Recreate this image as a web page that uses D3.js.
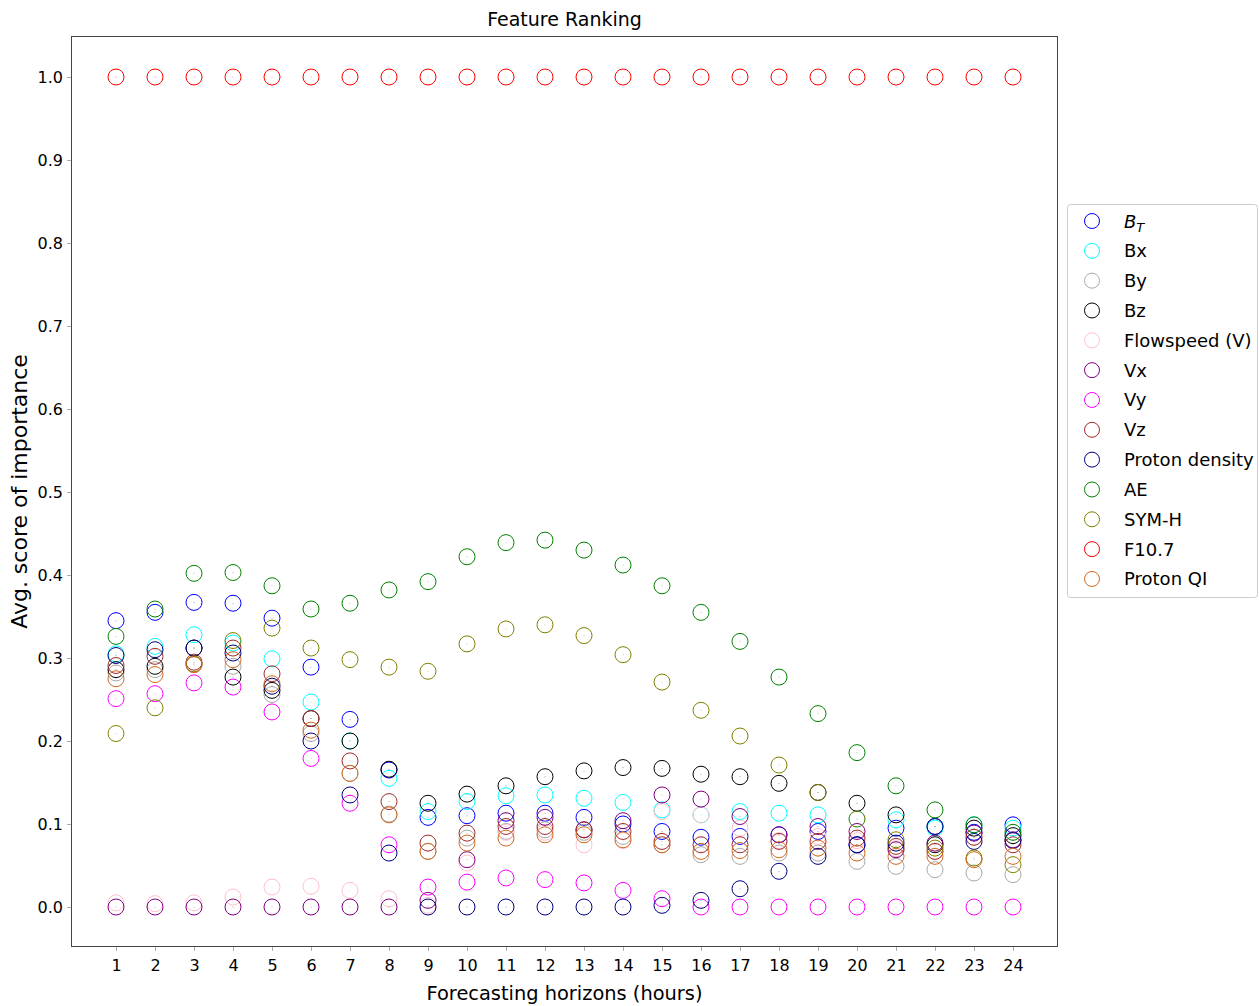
<!DOCTYPE html>
<html>
<head>
<meta charset="utf-8">
<script src="https://cdn.jsdelivr.net/npm/d3@7"></script>
<style>
  html, body { margin: 0; padding: 0; background: #fff; }
  svg { display: block; font-family: "DejaVu Sans", sans-serif; }
</style>
</head>
<body>
<svg id="chart" width="1259" height="1006"></svg>
<script>
// Forecasting horizons (hours)
const horizons = d3.range(1, 25);
const yTicks = d3.range(0, 11).map(d => d / 10);

// Average importance score per feature, one value per horizon 1..24
const BT = [0.345, 0.355, 0.367, 0.366, 0.348, 0.289, 0.226, 0.165, 0.108, 0.110, 0.113, 0.113, 0.108, 0.100, 0.091, 0.084, 0.085, 0.087, 0.091, 0.075, 0.095, 0.097, 0.090, 0.099];
const Bx = [0.305, 0.314, 0.328, 0.318, 0.299, 0.247, 0.200, 0.155, 0.115, 0.127, 0.134, 0.135, 0.131, 0.126, 0.117, 0.111, 0.115, 0.113, 0.111, 0.106, 0.105, 0.095, 0.099, 0.095];
const By = [0.282, 0.286, 0.292, 0.290, 0.256, 0.209, 0.161, 0.112, 0.067, 0.083, 0.091, 0.093, 0.090, 0.085, 0.075, 0.063, 0.061, 0.065, 0.065, 0.055, 0.049, 0.045, 0.041, 0.039];
const Bz = [0.286, 0.290, 0.312, 0.277, 0.261, 0.227, 0.200, 0.166, 0.125, 0.136, 0.146, 0.157, 0.164, 0.168, 0.167, 0.160, 0.157, 0.149, 0.138, 0.125, 0.111, 0.075, 0.095, 0.086];
const Flowspeed = [0.005, 0.004, 0.005, 0.012, 0.024, 0.025, 0.020, 0.010, 0.002, 0.053, 0.090, 0.090, 0.075, 0.080, 0.115, 0.111, 0.095, 0.080, 0.085, 0.080, 0.070, 0.067, 0.084, 0.080];
const Vx = [0, 0, 0, 0, 0, 0, 0, 0, 0.008, 0.057, 0.104, 0.108, 0.093, 0.104, 0.135, 0.130, 0.109, 0.087, 0.097, 0.091, 0.069, 0.077, 0.089, 0.081];
const Vy = [0.251, 0.257, 0.270, 0.265, 0.235, 0.179, 0.125, 0.075, 0.024, 0.030, 0.035, 0.033, 0.029, 0.020, 0.010, 0, 0, 0, 0, 0, 0, 0, 0, 0];
const Vz = [0.291, 0.302, 0.295, 0.312, 0.281, 0.227, 0.176, 0.127, 0.077, 0.089, 0.097, 0.097, 0.093, 0.091, 0.079, 0.075, 0.075, 0.079, 0.079, 0.083, 0.073, 0.067, 0.084, 0.075];
const ProtonDensity = [0.303, 0.310, 0.312, 0.306, 0.266, 0.200, 0.135, 0.065, 0, 0, 0, 0, 0, 0, 0.002, 0.008, 0.022, 0.043, 0.061, 0.075, 0.077, 0.097, 0.079, 0.080];
const AE = [0.326, 0.359, 0.402, 0.403, 0.387, 0.359, 0.366, 0.382, 0.392, 0.422, 0.439, 0.442, 0.430, 0.412, 0.387, 0.355, 0.320, 0.277, 0.233, 0.186, 0.146, 0.117, 0.099, 0.090];
const SYMH = [0.209, 0.240, 0.293, 0.321, 0.336, 0.312, 0.298, 0.289, 0.284, 0.317, 0.335, 0.340, 0.327, 0.304, 0.271, 0.237, 0.206, 0.171, 0.138, 0.106, 0.081, 0.071, 0.059, 0.051];
const F107 = [1, 1, 1, 1, 1, 1, 1, 1, 1, 1, 1, 1, 1, 1, 1, 1, 1, 1, 1, 1, 1, 1, 1, 1];
const ProtonQI = [0.275, 0.280, 0.292, 0.298, 0.269, 0.213, 0.161, 0.111, 0.067, 0.077, 0.083, 0.087, 0.087, 0.081, 0.075, 0.067, 0.068, 0.069, 0.071, 0.065, 0.061, 0.061, 0.057, 0.061];

const featureNames = ["B_T", "Bx", "By", "Bz", "Flowspeed (V)", "Vx", "Vy", "Vz", "Proton density", "AE", "SYM-H", "F10.7", "Proton QI"];
const featureValues = [BT, Bx, By, Bz, Flowspeed, Vx, Vy, Vz, ProtonDensity, AE, SYMH, F107, ProtonQI];
const featureColors = ["blue", "cyan", "darkgray", "black", "pink", "purple", "magenta", "brown", "navy", "green", "olive", "red", "chocolate"];

const series = featureNames.map((name, i) => ({ name, values: featureValues[i], color: featureColors[i] }));

const svg = d3.select("#chart");
const plot = { left: 71, right: 1058, top: 36, bottom: 947 };

const x = d3.scaleLinear()
  .domain([1 - 45 / 39, 24 + 45 / 39])
  .range([plot.left, plot.right]);
const y = d3.scaleLinear()
  .domain([-40 / 830, 1 + 41 / 830])
  .range([plot.bottom, plot.top]);

// Axes
const xAxis = svg.append("g")
  .attr("transform", `translate(0,${plot.bottom})`)
  .call(d3.axisBottom(x).tickValues(horizons).tickFormat(d3.format("d")).tickSize(4).tickPadding(9));
const yAxis = svg.append("g")
  .attr("transform", `translate(${plot.left},0)`)
  .call(d3.axisLeft(y).tickValues(yTicks).tickFormat(d3.format(".1f")).tickSize(4).tickPadding(4));

[xAxis, yAxis].forEach(g => {
  g.select(".domain").remove();
  g.selectAll(".tick line").attr("stroke", "#aaa");
  g.selectAll(".tick text")
    .attr("fill", "#000")
    .style("font-family", "'DejaVu Sans', sans-serif")
    .style("font-size", "16px");
});

// Frame
svg.append("rect")
  .attr("x", plot.left + 0.5).attr("y", plot.top + 0.5)
  .attr("width", plot.right - plot.left - 1).attr("height", plot.bottom - plot.top - 1)
  .attr("fill", "none").attr("stroke", "#444").attr("stroke-width", 1);

// Markers: open rings with a faint centre point
const markers = svg.append("g");
series.forEach(s => {
  const pts = s.values.map((v, i) => ({ h: horizons[i], v }));
  const g = markers.append("g");
  g.selectAll("circle.ring")
    .data(pts)
    .join("circle")
    .attr("class", "ring")
    .attr("cx", d => x(d.h))
    .attr("cy", d => y(d.v))
    .attr("r", 8)
    .attr("fill", "none")
    .attr("stroke", s.color)
    .attr("stroke-width", 1);
  g.selectAll("circle.dot")
    .data(pts)
    .join("circle")
    .attr("class", "dot")
    .attr("cx", d => x(d.h))
    .attr("cy", d => y(d.v))
    .attr("r", 0.5)
    .attr("fill", s.color)
    .attr("opacity", 0.5);
});

// Titles
svg.append("text")
  .attr("x", (plot.left + plot.right) / 2).attr("y", 26)
  .attr("text-anchor", "middle")
  .style("font-size", "19px")
  .text("Feature Ranking");
svg.append("text")
  .attr("x", (plot.left + plot.right) / 2).attr("y", 1000)
  .attr("text-anchor", "middle")
  .style("font-size", "19.4px")
  .text("Forecasting horizons (hours)");
svg.append("text")
  .attr("transform", `translate(27,${(plot.top + plot.bottom) / 2}) rotate(-90)`)
  .attr("text-anchor", "middle")
  .style("font-size", "22px")
  .text("Avg. score of importance");

// Legend
const legend = svg.append("g");
legend.append("rect")
  .attr("x", 1067.5).attr("y", 204.5)
  .attr("width", 190).attr("height", 393)
  .attr("rx", 3)
  .attr("fill", "#fff").attr("stroke", "#ccc");
const rowY = i => 221 + i * 29.83;
series.forEach((s, i) => {
  legend.append("circle")
    .attr("cx", 1092).attr("cy", rowY(i)).attr("r", 7.5)
    .attr("fill", "none").attr("stroke", s.color).attr("stroke-width", 1);
  const t = legend.append("text")
    .attr("x", 1124).attr("y", rowY(i) + 6.5)
    .style("font-size", "18px");
  if (s.name === "B_T") {
    t.append("tspan").style("font-style", "italic").text("B");
    t.append("tspan").style("font-style", "italic").style("font-size", "13px").attr("dy", 4).text("T");
  } else {
    t.text(s.name);
  }
});
</script>
</body>
</html>
